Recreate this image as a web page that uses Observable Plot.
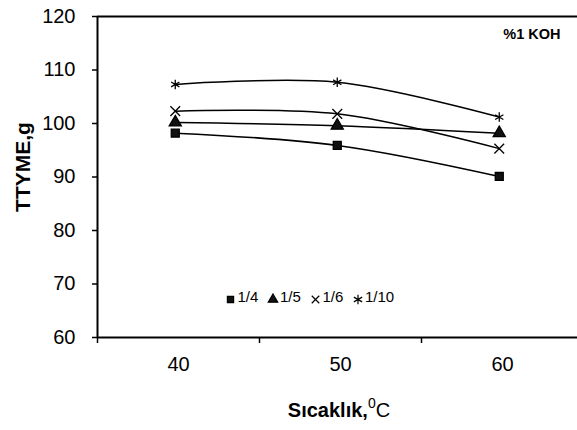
<!DOCTYPE html>
<html><head><meta charset="utf-8">
<script src="https://cdn.jsdelivr.net/npm/d3@7"></script>
<script src="https://cdn.jsdelivr.net/npm/@observablehq/plot@0.6"></script>
<style>body{margin:0;background:#fff;} svg{font-family:"Liberation Sans",Arial,sans-serif;}</style>
</head><body><div id="chart"></div>
<script>
const temps = [40, 50, 60];
const seriesNames = ["1/4", "1/5", "1/6", "1/10"];
const seriesSymbols = ["square", "triangle", "times", "asterisk"];
const v14 = [98.2, 95.9, 90.1];
const v15 = [100.2, 99.6, 98.2];
const v16 = [102.3, 101.8, 95.3];
const v110 = [107.3, 107.7, 101.2];
const yTicks = [60, 70, 80, 90, 100, 110, 120];
const xTickLabels = [40, 50, 60];
const xTickMarks = [35, 45, 55];

const allVals = [v14, v15, v16, v110];
const data = [];
allVals.forEach((vals, si) => vals.forEach((v, i) => data.push({series: seriesNames[si], sym: seriesSymbols[si], t: temps[i] - 0.2, v})));
const isFilled = s => s === "square" || s === "triangle";
const FONT = "'Liberation Sans',Arial,sans-serif";

const legendMarks = seriesNames.flatMap((s, i) => [
  Plot.dot([s], {frameAnchor: "bottom-left", dx: 133 + i * 42.5, dy: -38, symbol: () => seriesSymbols[i], r: seriesSymbols[i] === "asterisk" ? 4.5 : 3.5,
    fill: isFilled(seriesSymbols[i]) ? "#111" : "none", stroke: "#000", strokeWidth: 1.2}),
  Plot.text([s], {frameAnchor: "bottom-left", dx: 140 + i * 42.5, dy: -36, text: d => d, textAnchor: "start",
    fontSize: 15, fontFamily: FONT, fill: "#000"})
]);

const plot = Plot.plot({
  width: 577, height: 430,
  marginLeft: 97, marginTop: 16, marginBottom: 93, marginRight: 0,
  x: {domain: [35, 65], range: [97, 583], axis: null},
  y: {domain: [60, 120], axis: null},
  symbol: {domain: seriesSymbols, range: seriesSymbols},
  marks: [
    Plot.ruleY([120], {x1: 35, x2: 65, stroke: "#000", strokeWidth: 2}),
    Plot.ruleY([60], {x1: 35, x2: 65, stroke: "#000", strokeWidth: 2}),
    Plot.ruleX([35], {y1: 60, y2: 120, stroke: "#000", strokeWidth: 2}),
    Plot.ruleY(yTicks, {y: d => d, x1: 35, x2: 35, insetLeft: -5, stroke: "#000", strokeWidth: 1.5}),
    Plot.text(yTicks, {y: d => d, text: d => String(d), frameAnchor: "left", dx: -22, textAnchor: "end", fontSize: 20, fontFamily: FONT, fill: "#000"}),
    Plot.ruleX(xTickMarks, {x: d => d, y1: 60, y2: 60, stroke: "#000", strokeWidth: 1.5, insetBottom: -6}),
    Plot.text(xTickLabels, {x: d => d, text: d => String(d), frameAnchor: "bottom", dy: 33, fontSize: 20, fontFamily: FONT, fill: "#000"}),
    Plot.line(data, {x: "t", y: "v", z: "series", curve: "catmull-rom", stroke: "#000", strokeWidth: 1.5}),
    Plot.dot(data, {x: "t", y: "v", symbol: "sym", r: 4.5, fill: d => isFilled(d.sym) ? "#111" : "none", stroke: "#000", strokeWidth: 1.3}),
    ...legendMarks,
    Plot.text(["%1 KOH"], {frameAnchor: "top-right", dx: -17, dy: 12, text: d => d, textAnchor: "end", fontSize: 14.5, fontWeight: "bold", fill: "#000"})
  ]
});
const svg = d3.select(plot);
svg.append("text")
  .attr("transform", "translate(30,167) rotate(-90)")
  .attr("text-anchor", "middle").attr("font-size", 21).attr("font-weight", "bold")
  .attr("font-family", FONT)
  .text("TTYME,g");
const xl = svg.append("text")
  .attr("x", 339).attr("y", 417)
  .attr("text-anchor", "middle").attr("font-size", 20).attr("font-weight", "bold")
  .attr("font-family", FONT);
xl.append("tspan").text("Sıcaklık,");
xl.append("tspan").attr("dy", -9).attr("font-size", 14).attr("font-weight", "normal").text("0");
xl.append("tspan").attr("dy", 9).attr("font-weight", "normal").text("C");
document.getElementById("chart").append(plot);
</script></body></html>
